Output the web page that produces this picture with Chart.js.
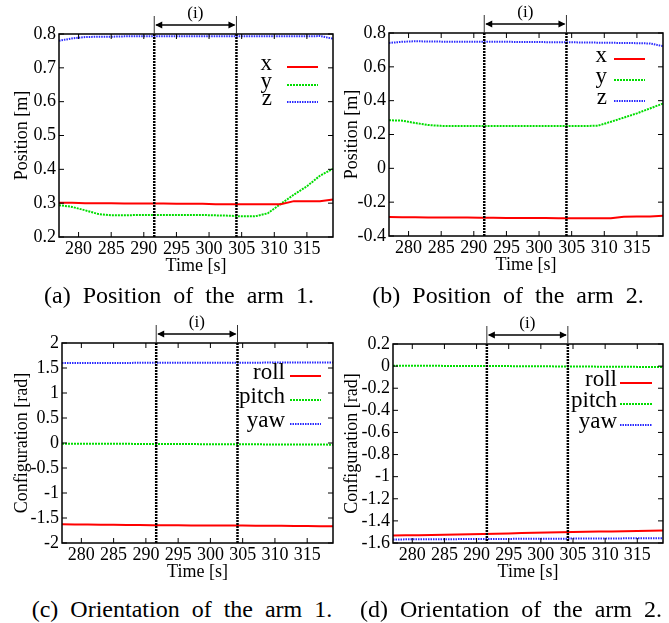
<!DOCTYPE html>
<html>
<head>
<meta charset="utf-8">
<script src="https://cdn.jsdelivr.net/npm/chart.js@4.4.1/dist/chart.umd.min.js"></script>
<style>
body { margin: 0; background: #fff; }
#page { position: relative; width: 669px; height: 623px; overflow: hidden; font-family: "Liberation Serif", serif; }
.box { position: absolute; }
.cap { position: absolute; font-size: 24px; line-height: 24px; white-space: nowrap; word-spacing: 6px; transform: translateX(-50%); }
</style>
</head>
<body>
<div id="page">
  <div class="box" style="left:0px;top:0px;width:340px;height:282px"><canvas id="chartA"></canvas></div>
  <div class="box" style="left:330px;top:0px;width:339px;height:281px"><canvas id="chartB"></canvas></div>
  <div class="box" style="left:0px;top:300px;width:340px;height:288px"><canvas id="chartC"></canvas></div>
  <div class="box" style="left:330px;top:300px;width:339px;height:288px"><canvas id="chartD"></canvas></div>
  <div class="cap" style="left:179px;top:283px">(a) Position of the arm 1.</div>
  <div class="cap" style="left:508px;top:283px">(b) Position of the arm 2.</div>
  <div class="cap" style="left:182px;top:597px">(c) Orientation of the arm 1.</div>
  <div class="cap" style="left:511px;top:597px">(d) Orientation of the arm 2.</div>
</div>
<script>
// time samples [s]
var TIME = [277, 279, 281, 283, 285, 287, 289, 291, 293, 295, 297, 299, 301, 303, 305, 307, 309, 311, 313, 315, 317, 319]
var X_TICKS = [280, 285, 290, 295, 300, 305, 310, 315]
var REGION = [291.6, 304.2]
var REGION_LABEL = '(i)'

// (a) position of arm 1 [m]
var POS1_X = [0.301, 0.301, 0.300, 0.300, 0.300, 0.299, 0.299, 0.299, 0.299, 0.298, 0.298, 0.298, 0.297, 0.297, 0.297, 0.297, 0.297, 0.297, 0.306, 0.306, 0.306, 0.311]
var POS1_Y = [0.294, 0.289, 0.279, 0.268, 0.264, 0.264, 0.265, 0.265, 0.265, 0.265, 0.265, 0.265, 0.264, 0.263, 0.261, 0.261, 0.270, 0.298, 0.325, 0.350, 0.381, 0.402]
var POS1_Z = [0.780, 0.787, 0.791, 0.792, 0.792, 0.793, 0.793, 0.793, 0.793, 0.793, 0.793, 0.793, 0.793, 0.793, 0.793, 0.793, 0.793, 0.793, 0.793, 0.793, 0.794, 0.786]
var POS1_TICKS = [0.2, 0.3, 0.4, 0.5, 0.6, 0.7, 0.8]

// (b) position of arm 2 [m]
var POS2_X = [-0.288, -0.289, -0.289, -0.290, -0.290, -0.291, -0.291, -0.292, -0.292, -0.293, -0.293, -0.294, -0.294, -0.295, -0.295, -0.295, -0.295, -0.295, -0.286, -0.285, -0.284, -0.281]
var POS2_Y = [0.284, 0.282, 0.268, 0.256, 0.251, 0.250, 0.250, 0.250, 0.250, 0.250, 0.250, 0.250, 0.250, 0.250, 0.250, 0.250, 0.252, 0.275, 0.300, 0.325, 0.354, 0.383]
var POS2_Z = [0.741, 0.748, 0.751, 0.750, 0.749, 0.749, 0.749, 0.748, 0.748, 0.748, 0.747, 0.747, 0.746, 0.746, 0.745, 0.744, 0.743, 0.742, 0.741, 0.740, 0.738, 0.722]
var POS2_TICKS = [-0.4, -0.2, 0, 0.2, 0.4, 0.6, 0.8]

// (c) orientation of arm 1 [rad]
var ROT1_ROLL = [-1.627, -1.629, -1.632, -1.634, -1.636, -1.639, -1.641, -1.644, -1.646, -1.647, -1.648, -1.649, -1.650, -1.650, -1.651, -1.653, -1.655, -1.657, -1.660, -1.662, -1.665, -1.667]
var ROT1_PITCH = [-0.013, -0.013, -0.014, -0.015, -0.016, -0.017, -0.018, -0.019, -0.020, -0.021, -0.022, -0.023, -0.024, -0.025, -0.026, -0.027, -0.028, -0.029, -0.030, -0.031, -0.032, -0.033]
var ROT1_YAW = [1.600, 1.600, 1.601, 1.601, 1.602, 1.602, 1.603, 1.603, 1.604, 1.604, 1.605, 1.605, 1.606, 1.606, 1.607, 1.607, 1.608, 1.608, 1.609, 1.609, 1.610, 1.610]
var ROT1_TICKS = [-2, -1.5, -1, -0.5, 0, 0.5, 1, 1.5, 2]

// (d) orientation of arm 2 [rad]
var ROT2_ROLL = [-1.533, -1.531, -1.529, -1.527, -1.525, -1.523, -1.521, -1.519, -1.516, -1.513, -1.510, -1.507, -1.504, -1.502, -1.500, -1.498, -1.497, -1.495, -1.493, -1.491, -1.490, -1.488]
var ROT2_PITCH = [0.004, 0.004, 0.003, 0.003, 0.002, 0.002, 0.001, 0.001, 0.000, 0.000, -0.001, -0.001, -0.002, -0.003, -0.003, -0.004, -0.005, -0.005, -0.006, -0.007, -0.007, -0.008]
var ROT2_YAW = [-1.568, -1.567, -1.567, -1.566, -1.566, -1.565, -1.564, -1.564, -1.563, -1.563, -1.562, -1.562, -1.561, -1.561, -1.560, -1.560, -1.559, -1.559, -1.558, -1.558, -1.557, -1.556]
var ROT2_TICKS = [-1.6, -1.4, -1.2, -1, -0.8, -0.6, -0.4, -0.2, 0, 0.2]

var SERIF = '"Liberation Serif", "Times New Roman", serif'
Chart.defaults.font.family = SERIF
Chart.defaults.color = '#000'

var STYLES = [
    { color: '#ff0000', width: 2, dash: [] },
    { color: '#00dd00', width: 2, dash: [2, 1] },
    { color: '#2a2aff', width: 2, dash: [1.5, 1] }
]

// frame, inner ticks, region (i) and the legend, gnuplot style
var overlay = {
    id: 'overlay',
    afterDatasetsDraw(chart, args, opts) {
        const ctx = chart.ctx
        const a = chart.chartArea
        const xs = chart.scales.x
        const ys = chart.scales.y
        ctx.save()

        ctx.strokeStyle = '#000'
        ctx.lineWidth = 1.5
        ctx.strokeRect(a.left, a.top, a.right - a.left, a.bottom - a.top)

        ctx.lineWidth = 1
        ctx.beginPath()
        xs.ticks.forEach(t => {
            const p = xs.getPixelForValue(t.value)
            ctx.moveTo(p, a.bottom); ctx.lineTo(p, a.bottom - 5)
            ctx.moveTo(p, a.top); ctx.lineTo(p, a.top + 5)
        })
        ys.ticks.forEach(t => {
            const p = ys.getPixelForValue(t.value)
            ctx.moveTo(a.left, p); ctx.lineTo(a.left + 5, p)
            ctx.moveTo(a.right, p); ctx.lineTo(a.right - 5, p)
        })
        ctx.stroke()

        // region lines
        const r0 = xs.getPixelForValue(REGION[0])
        const r1 = xs.getPixelForValue(REGION[1])
        ctx.lineWidth = 2.5
        ctx.setLineDash([2, 1])
        ;[r0, r1].forEach(p => {
            ctx.beginPath(); ctx.moveTo(p, a.top); ctx.lineTo(p, a.bottom); ctx.stroke()
        })
        ctx.setLineDash([])

        // bracket with double arrow
        ctx.lineWidth = 1
        ctx.strokeStyle = '#333'
        ctx.beginPath()
        ctx.moveTo(r0, a.top - 18); ctx.lineTo(r0, a.top)
        ctx.moveTo(r1, a.top - 18); ctx.lineTo(r1, a.top)
        ctx.stroke()
        const ay = a.top - 9
        ctx.strokeStyle = '#000'
        ctx.lineWidth = 1.5
        ctx.beginPath(); ctx.moveTo(r0 + 2, ay); ctx.lineTo(r1 - 2, ay); ctx.stroke()
        ctx.fillStyle = '#000'
        ctx.beginPath()
        ctx.moveTo(r0 + 1, ay); ctx.lineTo(r0 + 8, ay - 3.5); ctx.lineTo(r0 + 8, ay + 3.5); ctx.closePath()
        ctx.moveTo(r1 - 1, ay); ctx.lineTo(r1 - 8, ay - 3.5); ctx.lineTo(r1 - 8, ay + 3.5); ctx.closePath()
        ctx.fill()
        ctx.font = '17px ' + SERIF
        ctx.textAlign = 'center'
        ctx.textBaseline = 'middle'
        ctx.fillText(REGION_LABEL, (r0 + r1) / 2, a.top - 20)

        // legend
        const lg = opts.legend
        ctx.font = '23px ' + SERIF
        ctx.textAlign = 'right'
        chart.data.datasets.forEach((ds, i) => {
            const y = a.top + lg.rows[i]
            ctx.fillStyle = '#000'
            ctx.fillText(ds.label, a.right - lg.text, y - 3)
            ctx.strokeStyle = ds.borderColor
            ctx.lineWidth = ds.borderWidth
            ctx.setLineDash(ds.borderDash)
            ctx.beginPath(); ctx.moveTo(a.right - lg.from, y); ctx.lineTo(a.right - lg.to, y); ctx.stroke()
        })
        ctx.restore()
    }
}

function makeChart(id, p) {
    const ctx = document.getElementById(id).getContext('2d')
    return new Chart(ctx, {
        type: 'line',
        data: {
            datasets: p.series.map((s, i) => ({
                label: p.labels[i],
                data: TIME.map((t, k) => ({ x: t, y: s[k] })),
                borderColor: STYLES[i].color,
                borderWidth: STYLES[i].width,
                borderDash: STYLES[i].dash,
                pointRadius: 0,
                tension: 0,
                fill: false
            }))
        },
        options: {
            responsive: true,
            maintainAspectRatio: false,
            animation: false,
            layout: { padding: { top: p.padTop, right: p.padRight, left: 0, bottom: 0 } },
            plugins: {
                legend: { display: false },
                tooltip: { enabled: false },
                overlay: { legend: p.legend }
            },
            scales: {
                x: {
                    type: 'linear',
                    min: 277,
                    max: 319,
                    afterBuildTicks: s => { s.ticks = X_TICKS.map(v => ({ value: v })) },
                    afterFit: s => { s.height = 45 },
                    grid: { display: false, drawTicks: false },
                    border: { display: false },
                    ticks: { font: { size: 18 }, color: '#000', padding: 1, autoSkip: false, maxRotation: 0 },
                    title: { display: true, text: 'Time [s]', font: { size: 18 }, color: '#000', padding: { top: 0, bottom: 5 } }
                },
                y: {
                    min: p.yTicks[0],
                    max: p.yTicks[p.yTicks.length - 1],
                    afterBuildTicks: s => { s.ticks = p.yTicks.map(v => ({ value: v })) },
                    afterFit: s => { s.width = p.yWidth },
                    grid: { display: false, drawTicks: false },
                    border: { display: false },
                    ticks: {
                        font: { size: 18 }, color: '#000', padding: 3, autoSkip: false,
                        callback: v => String(Math.round(v * 10) / 10)
                    },
                    title: { display: true, text: p.yTitle, font: { size: 18 }, color: '#000', padding: { top: 11, bottom: 0 } }
                }
            }
        },
        plugins: [overlay]
    })
}

makeChart('chartA', {
    series: [POS1_X, POS1_Y, POS1_Z], labels: ['x', 'y', 'z'], yTicks: POS1_TICKS,
    yTitle: 'Position [m]', yWidth: 59, padTop: 34, padRight: 7,
    legend: { text: 61, from: 46, to: 15, rows: [33, 51, 68] }
})
makeChart('chartB', {
    series: [POS2_X, POS2_Y, POS2_Z], labels: ['x', 'y', 'z'], yTicks: POS2_TICKS,
    yTitle: 'Position [m]', yWidth: 59, padTop: 33, padRight: 6,
    legend: { text: 56, from: 49, to: 18, rows: [26, 47, 68] }
})
makeChart('chartC', {
    series: [ROT1_ROLL, ROT1_PITCH, ROT1_YAW], labels: ['roll', 'pitch', 'yaw'], yTicks: ROT1_TICKS,
    yTitle: 'Configuration [rad]', yWidth: 62, padTop: 43, padRight: 7,
    legend: { text: 48, from: 43, to: 12, rows: [33, 57, 81] }
})
makeChart('chartD', {
    series: [ROT2_ROLL, ROT2_PITCH, ROT2_YAW], labels: ['roll', 'pitch', 'yaw'], yTicks: ROT2_TICKS,
    yTitle: 'Configuration [rad]', yWidth: 63, padTop: 44, padRight: 6,
    legend: { text: 46, from: 43, to: 11, rows: [39, 60, 81] }
})
</script>
</body>
</html>
